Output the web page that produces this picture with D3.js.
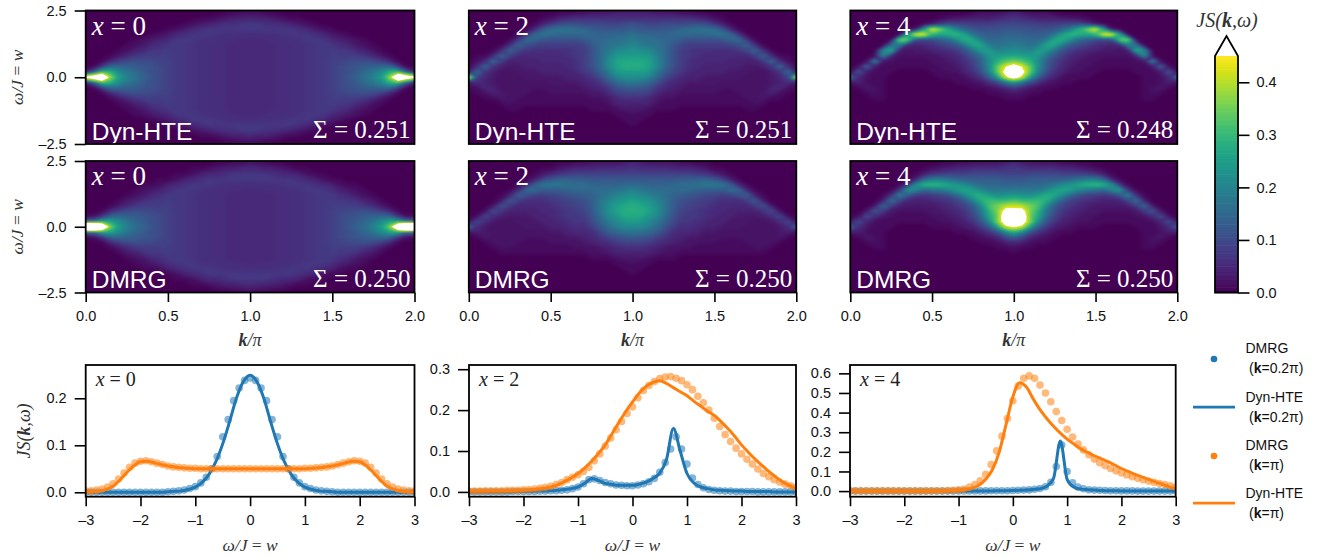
<!DOCTYPE html>
<html>
<head>
<meta charset="utf-8">
<script src="https://cdn.jsdelivr.net/npm/d3@7"></script>
<style>
body { margin: 0; background: #fff; }
svg { display: block; }
text { font-family: "Liberation Sans", Arial, sans-serif; }
.math { font-family: "Liberation Serif", serif; }
.tick text { font-size: 14.5px; }
</style>
</head>
<body>
<div id="chart"></div>
<script>
// ---- heat map values, in hundredths ----
// one list per k column (k = 0, 0.05 ... 1.0), the panels mirror around k = 1
// x = 0 columns run w = 2.6, 2.4 ... 0 and mirror around w = 0
var hteX0 = [
    [0,0,0,0,0,0,0,0,0,0,0,0,4,50],
    [0,0,0,0,0,0,0,0,0,0,0,1,14,60],
    [0,0,0,0,0,0,0,0,0,0,1,8,30,75],
    [0,0,0,0,0,0,0,0,0,1,5,15,29,38],
    [0,0,0,0,0,0,0,0,1,3,8,15,22,25],
    [0,0,0,0,0,0,0,1,2,5,10,14,18,20],
    [0,0,0,0,0,0,1,2,4,7,11,13,16,17],
    [0,0,0,0,0,0,2,3,5,8,10,12,13,14],
    [0,0,0,0,0,1,3,5,7,8,10,11,11,12],
    [0,0,0,0,0,2,4,6,7,8,9,10,10,10],
    [0,0,0,0,1,3,5,7,8,8,8.7,8.7,8.7,8.7],
    [0,0,0,0,2,5,7,7,7,7.3,7.5,7.5,7.5,7.5],
    [0,0,0,1,3,6,7,7,7,7,7,7,7,7],
    [0,0,0,2,5,7,7,6.6,6.6,6.6,6.6,6.6,6.6,6.6],
    [0,0,1,3,6,7,6.5,6.3,6.3,6.3,6.3,6.3,6.3,6.3],
    [0,0,1,4,7,7,6.3,6,6,6,6,6,6,6],
    [0,0,2,5,7,6.6,6,5.7,5.7,5.7,5.7,5.7,5.7,5.7],
    [0,1,3,6,7,6.3,5.8,5.5,5.5,5.5,5.5,5.5,5.5,5.5],
    [0,1,4,6,7,6.2,5.6,5.3,5.3,5.3,5.3,5.3,5.3,5.3],
    [0,2,4,7,7,6,5.4,5.1,5.1,5.1,5.1,5.1,5.1,5.1],
    [1,2,5,7,7,6,5.3,5,5,5,5,5,5,5]
];
var dmrgX0 = [
    [0,0,0,0,0,0,0,0,0,0,0,1,15,120],
    [0,0,0,0,0,0,0,0,0,0,0,2,16,120],
    [0,0,0,0,0,0,0,0,0,0,1,7,26,75],
    [0,0,0,0,0,0,0,0,0,1,5,14,27,36],
    [0,0,0,0,0,0,0,0,1,3,8,15,22,25],
    [0,0,0,0,0,0,0,1,3,5,10,14,18,20],
    [0,0,0,0,0,0,1,2,4,7,11,13,15,16],
    [0,0,0,0,0,1,2,3,6,8,10,12,13,14],
    [0,0,0,0,0,1,3,5,7,8,10,11,11,12],
    [0,0,0,0,1,2,4,6,7,8,9,10,10,10],
    [0,0,0,0,1,4,6,7,8,8,8.7,8.7,8.7,8.7],
    [0,0,0,1,2,5,7,7,7,7.3,7.5,7.5,7.5,7.5],
    [0,0,0,1,4,6,7,7,7,7,7,7,7,7],
    [0,0,1,2,5,7,7,6.6,6.6,6.6,6.6,6.6,6.6,6.6],
    [0,0,1,4,6,7,6.5,6.3,6.3,6.3,6.3,6.3,6.3,6.3],
    [0,0,2,5,7,7,6.3,6,6,6,6,6,6,6],
    [0,1,3,5,7,6.6,6,5.7,5.7,5.7,5.7,5.7,5.7,5.7],
    [0,1,4,6,7,6.3,5.8,5.5,5.5,5.5,5.5,5.5,5.5,5.5],
    [0,2,4,7,7,6.2,5.6,5.3,5.3,5.3,5.3,5.3,5.3,5.3],
    [1,2,5,7,7,6.1,5.5,5.1,5.1,5.1,5.1,5.1,5.1,5.1],
    [1,3,5,7,7,6,5.3,5,5,5,5,5,5,5]
];
// x = 2 and x = 4 columns run w = 2.6, 2.4 ... -2.6, trailing zeros left out
var hteX2 = [
    [0,0,0,0,0,0,0,0,0,0,0,1,3,44,3,1],
    [0,0,0,0,0,0,0,0,0,1,2,6,17,9,6,2,1],
    [0,0,0,0,0,0,0,0,0,1,6,16,7,5,4,5,2,1],
    [0,0,0,0,0,0,0,0,1,6,16,7,4,3,3,4,4,1],
    [0,0,0,0,0,0,0,1,6,15,8,4,2,2,2,2,3,3,1],
    [0,0,0,0,0,0,1,6,15,9,4,3,2,2,2,2,2,2,2,1],
    [0,0,0,0,0,1,7,15,10,5,4,3,3,2,2,2,2,2,1,1],
    [0,0,0,0,1,7,16,11,7,5,4,4,3,3,2,2,2,1,1],
    [0,0,0,1,5,15,14,9,6,5,4,4,3,3,2,2,1,1,1],
    [0,0,1,4,12,17,12,8,6,5,5,4,4,3,2,2,1,1,1],
    [0,0,2,7,16,16,11,8,6,5,5,4,4,3,3,2,2,1,1],
    [0,1,4,10,17,15,11,8,6,5,5,4,4,3,3,2,2,1,1],
    [0,1,5,11,17,15,11,8,6,6,5,5,4,4,3,2,2,1,1],
    [0,2,6,11,16,15,11,8,7,7,6,6,5,4,3,2,2,1,1],
    [0,2,6,10,15,15,12,9,8,8,8,8,7,5,4,3,2,1,1],
    [0,3,6,10,13,15,14,12,11,11,11,11,9,7,5,4,3,2,1,1],
    [1,3,6,10,12,14,15,15,15,15,15,15,13,10,7,5,3,2,1,1],
    [1,3,6,9,12,14,16,17,18,20,21,21,18,15,11,7,5,3,2,1],
    [1,4,6,9,12,15,16,18,21,24,26,26,24,20,15,11,8,5,4,2,1],
    [1,4,6,10,12,15,17,19,22,25,27,28,25,22,17,12,9,6,4,3,1,1],
    [1,4,6,11,14,17,19,21,23,25,27,28,25,22,18,13,9,6,4,3,2,1,1]
];
var dmrgX2 = [
    [0,0,0,0,0,0,0,0,0,0,0,0,2,16,2],
    [0,0,0,0,0,0,0,0,0,0,0,2,10,6,4,1],
    [0,0,0,0,0,0,0,0,0,0,2,10,6,3,3,3,1],
    [0,0,0,0,0,0,0,0,0,3,11,6,3,2,2,2,2,1],
    [0,0,0,0,0,0,0,1,3,12,7,4,2,2,2,2,2,2,1],
    [0,0,0,0,0,0,1,4,13,8,4,3,2,2,2,2,2,2,1],
    [0,0,0,0,0,1,5,14,9,5,4,3,3,2,2,2,2,1,1],
    [0,0,0,0,1,5,15,11,6,5,4,3,3,3,2,2,1,1,1],
    [0,0,0,1,4,13,16,9,6,5,4,4,3,3,2,2,1,1,1],
    [0,0,1,3,9,18,13,8,6,5,5,4,4,3,2,2,1,1,1],
    [0,0,1,5,12,18,13,9,7,6,5,5,4,4,3,2,2,1,1],
    [0,1,3,7,14,18,13,10,8,7,6,6,5,4,3,2,2,1,1],
    [0,1,4,8,14,17,14,11,9,8,7,7,6,5,4,3,2,1,1],
    [0,2,5,9,13,16,15,12,10,9,8,7,7,6,5,3,2,2,1],
    [0,2,5,9,13,16,15,13,11,10,9,8,7,6,5,4,3,2,1],
    [0,3,5,9,12,15,15,14,13,13,12,11,10,8,6,5,4,2,2,1],
    [1,3,6,9,12,14,16,16,17,17,17,16,14,12,9,7,5,3,2,1],
    [1,3,6,9,12,14,16,18,20,22,22,21,18,16,13,9,6,4,3,1],
    [1,3,6,9,12,14,17,20,23,25,26,24,21,19,15,11,8,5,4,2,1],
    [1,4,6,9,12,15,18,21,24,27,28,27,24,21,17,12,9,6,4,3,1,1],
    [3,5,7,9,12,16,20,23,26,28,28,27,25,21,17,13,9,6,4,3,2,1,1]
];
var hteX4 = [
    [0,0,0,0,0,0,0,0,0,0,0,0,2,17,2],
    [0,0,0,0,0,0,0,0,0,0,0,2,13,5,4,1],
    [0,0,0,0,0,0,0,0,0,0,2,15,4,2,2,3,1],
    [0,0,0,0,0,0,0,0,0,2,21,4,1,1,1,2,2,1],
    [0,0,0,0,0,0,0,1,21,21,3,1,1,1,1,1,1,1],
    [0,0,0,0,0,0,1,17,29,5,2,1,1],
    [0,0,0,0,0,1,36,19,4,2,1,1],
    [0,0,0,0,1,26,34,5,2,2,1,1],
    [0,0,0,0,3,44,10,4,3,2,1,1],
    [0,0,0,1,24,44,9,5,3,2,1,1],
    [0,0,0,3,44,30,10,6,4,2,2,1,1],
    [0,0,1,7,36,26,13,8,5,3,2,2,1,1],
    [0,0,2,10,28,28,15,10,6,4,3,2,2,1],
    [0,0,3,9,20,30,22,12,8,5,4,3,2,1,1],
    [0,0,3,9,15,26,28,18,11,8,6,5,4,2,1],
    [0,1,4,8,12,18,27,26,17,12,9,8,6,4,2,1],
    [0,2,4,8,11,14,19,27,24,17,14,13,11,7,3,1],
    [0,2,4,8,11,13,15,19,25,24,22,22,20,14,6,2,1],
    [0,2,5,9,11,13,15,17,20,25,29,34,34,25,10,3,1],
    [0,3,6,9,12,14,16,18,21,26,33,44,50,42,17,5,2,1],
    [2,4,7,10,12,14,16,19,22,27,35,52,60,52,22,8,3,1]
];
var dmrgX4 = [
    [0,0,0,0,0,0,0,0,0,0,0,0,3,15,3],
    [0,0,0,0,0,0,0,0,0,0,0,2,11,6,4,1],
    [0,0,0,0,0,0,0,0,0,0,3,11,5,3,2,3,1],
    [0,0,0,0,0,0,0,0,0,3,13,6,2,1,1,2,2,1],
    [0,0,0,0,0,0,0,1,4,16,8,3,1,1,1,1,1,1],
    [0,0,0,0,0,0,1,6,18,9,3,2,1,1],
    [0,0,0,0,0,1,7,21,10,4,2,1,1],
    [0,0,0,0,1,7,24,13,5,3,2,1,1],
    [0,0,0,1,5,22,21,8,4,3,2,1,1],
    [0,0,1,4,15,29,15,7,4,3,2,1,1],
    [0,0,2,7,19,30,17,8,5,3,3,2,1,1],
    [0,1,3,8,19,29,18,9,6,4,3,2,2,1],
    [0,1,4,9,17,27,21,11,7,5,4,3,2,1],
    [0,2,5,9,15,24,25,15,9,7,5,4,3,2,1],
    [0,2,5,9,14,21,27,21,13,9,7,6,4,3,1],
    [0,3,6,10,13,18,25,27,20,13,11,9,7,4,2,1],
    [0,3,6,10,13,16,21,28,28,22,18,15,12,8,4,2,1],
    [1,3,6,10,13,15,18,25,31,32,29,27,22,14,7,3,1],
    [1,3,6,10,13,15,18,22,30,36,36,34,36,26,12,5,2,1],
    [1,4,7,9,12,14,18,23,30,40,50,58,54,42,22,10,4,1],
    [2,6,7,9,12,15,18,24,32,41,50,58,58,46,28,14,5,2,1]
];

// ---- line cuts ----
// DMRG points, w = -3, -2.9 ... 3
var dmrgBlueX0 = [0,0,0,0,0,0,0,0,0,0,0,0,0,0,0,.001,.002,.003,.005,.008,.012,.02,.032,.05,.076,.118,.155,.195,.222,.238,.243,.238,.222,.195,.155,.118,.076,.05,.032,.02,.012,.008,.005,.003,.002,.001,0,0,0,0,0,0,0,0,0,0,0,0,0,0,0];
var dmrgOrangeX0 = [.003,.003,.005,.007,.011,.018,.028,.041,.053,.062,.066,.067,.065,.062,.059,.056,.054,.053,.052,.051,.051,.05,.05,.05,.05,.05,.05,.05,.05,.05,.05,.05,.05,.05,.05,.05,.05,.05,.05,.05,.051,.051,.052,.053,.054,.056,.059,.062,.065,.067,.066,.062,.053,.041,.028,.018,.011,.007,.005,.003,.003];
var dmrgBlueX2 = [0,0,0,0,0,0,0,0,.001,.001,.001,.001,.001,.002,.002,.003,.003,.004,.005,.008,.012,.02,.03,.032,.028,.023,.02,.017,.016,.015,.015,.017,.02,.025,.033,.048,.072,.105,.135,.105,.068,.034,.018,.01,.006,.004,.003,.002,.002,.001,.001,.001,.001,0,0,0,0,0,0,0,0];
var dmrgOrangeX2 = [.002,.002,.002,.003,.003,.003,.003,.004,.004,.004,.005,.006,.007,.009,.011,.014,.018,.023,.03,.036,.042,.05,.06,.076,.093,.112,.132,.152,.172,.192,.208,.23,.248,.26,.27,.277,.281,.282,.278,.272,.262,.25,.234,.218,.2,.18,.16,.14,.123,.107,.093,.08,.068,.056,.045,.037,.03,.024,.019,.015,.011];
var dmrgBlueX4 = [0,0,0,0,0,0,0,0,0,0,0,0,0,0,0,0,0,0,0,0,.001,.001,.001,.001,.001,.001,.002,.002,.002,.002,.003,.004,.005,.006,.009,.013,.022,.045,.125,.235,.1,.042,.02,.012,.007,.005,.004,.003,.002,.002,.001,.001,.001,0,0,0,0,0,0,0,0];
var dmrgOrangeX4 = [.001,.001,.001,.001,.001,.001,.001,.001,.001,.001,.001,.001,.001,.001,.001,.002,.002,.002,.003,.004,.006,.01,.02,.033,.052,.085,.135,.205,.28,.37,.46,.535,.575,.587,.575,.54,.5,.455,.405,.36,.315,.275,.24,.21,.185,.163,.145,.13,.115,.103,.092,.082,.073,.065,.058,.051,.045,.039,.033,.027,.021];
// Dyn-HTE lines, w = -3, -2.875 ... 3
var hteBlueX0 = [0,0,0,0,0,0,0,0,0,0,0,0,.001,.002,.003,.006,.011,.021,.038,.065,.103,.15,.2,.235,.249,.235,.2,.15,.103,.065,.038,.021,.011,.006,.003,.002,.001,0,0,0,0,0,0,0,0,0,0,0,0];
var hteOrangeX0 = [0,.001,.002,.006,.013,.026,.042,.056,.065,.066,.063,.059,.056,.054,.052,.051,.05,.05,.05,.05,.05,.05,.05,.05,.05,.05,.05,.05,.05,.05,.05,.05,.05,.051,.052,.054,.056,.059,.063,.066,.065,.056,.042,.026,.013,.006,.002,.001,0];
var hteBlueX2 = [0,0,0,0,0,0,0,.001,.001,.001,.002,.002,.003,.004,.006,.008,.012,.021,.033,.028,.021,.018,.016,.016,.016,.019,.024,.033,.046,.08,.155,.1,.045,.022,.012,.008,.005,.004,.003,.002,.002,.001,.001,.001,.001,0,0,0,0];
var hteOrangeX2 = [.002,.002,.002,.003,.003,.003,.003,.004,.004,.005,.007,.009,.012,.017,.025,.034,.045,.059,.075,.094,.115,.142,.17,.196,.22,.242,.258,.268,.272,.265,.255,.245,.235,.222,.21,.198,.187,.172,.155,.136,.115,.097,.08,.065,.05,.037,.025,.016,.008];
var hteBlueX4 = [0,0,0,0,0,0,0,0,0,0,0,0,0,0,0,0,0,0,0,0,.001,.001,.002,.002,.003,.004,.005,.008,.012,.025,.065,.255,.06,.02,.01,.007,.005,.003,.002,.002,.001,.001,.001,0,0,0,0,0,0];
var hteOrangeX4 = [0,0,0,0,0,0,0,0,0,0,0,0,.001,.001,.002,.003,.004,.008,.015,.03,.06,.11,.2,.34,.48,.552,.53,.47,.415,.37,.33,.295,.265,.24,.215,.197,.18,.165,.15,.133,.115,.1,.085,.072,.06,.047,.035,.023,.012];

var pointOmega = d3.range(61).map(i => -3 + i * 0.1);
var lineOmega = d3.range(49).map(i => -3 + i * 0.125);

var kTicks = [0, 0.5, 1, 1.5, 2];
var wTicks = [-2.5, 0, 2.5];
var cutXTicks = [-3, -2, -1, 0, 1, 2, 3];
var cbarTicks = [0, 0.1, 0.2, 0.3, 0.4];
var xValues = [0, 2, 4];
var sumHte = ["0.251", "0.251", "0.248"];
var sumDmrg = ["0.250", "0.250", "0.250"];
var blue = "#1f77b4";
var orange = "#ff7f0e";
var vmax = 0.45;

var svg = d3.select("#chart").append("svg")
    .attr("width", 1326)
    .attr("height", 558)
    .attr("fill", "#111");

// The reference heat maps look soft, so the contour bands get a light blur
svg.append("filter")
    .attr("id", "soften")
    .attr("x", "-5%").attr("y", "-5%")
    .attr("width", "110%").attr("height", "110%")
    .attr("color-interpolation-filters", "sRGB")
    .append("feGaussianBlur")
    .attr("stdDeviation", "2.2 1.2");

var columns = [[85.7, 414.5], [468.8, 796.3], [850.3, 1177.3]];
var cutColumns = [[85.7, 414.5], [469, 796], [850, 1175.7]];
var color = t => d3.interpolateViridis(t / vmax);
var minusFix = f => (d => f(d).replace("\u2212", "\u2013").replace("-", "\u2013"));
var clipId = 0;

// Pad a column to full length
function pad(col, n) {
    return col.concat(d3.range(n - col.length).map(() => 0));
}

// Mirror x = 0 half columns to all w rows
function fullX0(cols) {
    return cols.map(c => c.concat(c.slice(0, -1).reverse()));
}

// Flatten columns to the row order that d3.contours wants
function gridFrom(cols) {
    var half = cols.map(c => pad(c, 27));
    var all = half.concat(half.slice(0, -1).reverse());
    var values = [];
    for (var j = 0; j < 27; j++) {
        for (var i = 0; i < all.length; i++) {
            values.push(all[i][j] / 100);
        }
    }
    return values;
}

function frame(g, x, y) {
    g.append("rect")
        .attr("x", x.range()[0])
        .attr("y", y.range()[1])
        .attr("width", x.range()[1] - x.range()[0])
        .attr("height", y.range()[0] - y.range()[1])
        .attr("fill", "none")
        .attr("stroke", "#000")
        .attr("stroke-width", 1.8);
}

function styleAxis(sel) {
    sel.select(".domain").remove();
    sel.selectAll(".tick line").attr("stroke", "#000").attr("stroke-width", 1.6);
    sel.selectAll(".tick text").attr("fill", "#111");
}

function clipRect(x, y) {
    var id = "clip" + (clipId++);
    svg.append("clipPath").attr("id", id).append("rect")
        .attr("x", x.range()[0])
        .attr("y", y.range()[1])
        .attr("width", x.range()[1] - x.range()[0])
        .attr("height", y.range()[0] - y.range()[1]);
    return "url(#" + id + ")";
}

// label written as  x = 0 , with the x in italics
function xLabel(g, px, py, size, value, fill) {
    var t = g.append("text").attr("class", "math")
        .attr("x", px).attr("y", py)
        .attr("font-size", size).attr("fill", fill);
    t.append("tspan").attr("font-style", "italic").text("x");
    t.append("tspan").text(" = " + value);
}

function wLabel(g, px, py, rotate) {
    var t = g.append("text").attr("class", "math")
        .attr("text-anchor", "middle")
        .attr("font-size", 17.5)
        .attr("fill", "#333")
        .attr("transform", "translate(" + px + "," + py + ")" + (rotate ? " rotate(-90)" : ""));
    t.append("tspan").attr("font-style", "italic").text("\u03c9/J");
    t.append("tspan").text(" = ");
    t.append("tspan").attr("font-style", "italic").text("w");
}

function jsLabel(g, px, py, rotate, size) {
    var t = g.append("text").attr("class", "math")
        .attr("text-anchor", "middle")
        .attr("font-size", size)
        .attr("fill", "#333")
        .attr("transform", "translate(" + px + "," + py + ")" + (rotate ? " rotate(-90)" : ""));
    t.append("tspan").attr("font-style", "italic").text("JS(");
    t.append("tspan").attr("font-style", "italic").attr("font-weight", "bold").text("k");
    t.append("tspan").attr("font-style", "italic").text(",\u03c9)");
}

function heatPanel(cols, col, yTop, yBottom, method, sum, value) {
    var g = svg.append("g");
    var x = d3.scaleLinear().domain([0, 2]).range(columns[col]);
    var y = d3.scaleLinear().domain([-2.5, 2.5]).range([yBottom, yTop]);

    var thresholds = d3.range(0.005, vmax, 0.005).concat([vmax]);
    var contours = d3.contours().size([41, 27]).thresholds(thresholds)(gridFrom(cols));
    var project = d3.geoTransform({
        point: function (px, py) {
            this.stream.point(x((px - 0.5) * 0.05), y(2.6 - (py - 0.5) * 0.2));
        }
    });
    var path = d3.geoPath(project);

    var clipped = g.append("g").attr("clip-path", clipRect(x, y));
    var plot = clipped.append("g").attr("filter", "url(#soften)");
    plot.append("rect")
        .attr("x", x.range()[0] - 12).attr("y", yTop - 12)
        .attr("width", x.range()[1] - x.range()[0] + 24)
        .attr("height", yBottom - yTop + 24)
        .attr("fill", color(0));
    plot.selectAll("path")
        .data(contours.filter(d => d.value < vmax))
        .join("path")
        .attr("d", path)
        .attr("fill", d => color(d.value + 0.0025));
    // values over the colour range stay crisp white
    clipped.selectAll("path.over")
        .data(contours.filter(d => d.value >= vmax))
        .join("path")
        .attr("class", "over")
        .attr("d", path)
        .attr("fill", "#fff");

    xLabel(g, x.range()[0] + 6, yTop + 24, 27, value, "#fff");
    g.append("text").attr("x", x.range()[0] + 6).attr("y", yBottom - 4.5)
        .attr("font-size", 24.5).attr("fill", "#fff").text(method);
    g.append("text").attr("class", "math")
        .attr("x", x.range()[1] - 4).attr("y", yBottom - 6)
        .attr("text-anchor", "end").attr("font-size", 25).attr("fill", "#fff")
        .text("\u03a3 = " + sum);

    frame(g, x, y);

    if (col == 0) {
        g.append("g")
            .attr("transform", "translate(" + x.range()[0] + ",0)")
            .call(d3.axisLeft(y).tickValues(wTicks).tickSize(11).tickPadding(8)
                .tickFormat(minusFix(d3.format(".1f"))))
            .call(styleAxis);
        wLabel(g, 23, (yTop + yBottom) / 2, true);
    }
    if (yTop > 100) {
        g.append("g")
            .attr("transform", "translate(0," + yBottom + ")")
            .call(d3.axisBottom(x).tickValues(kTicks).tickSize(9.5).tickPadding(9)
                .tickFormat(d3.format(".1f")))
            .call(styleAxis);
        var t = g.append("text").attr("class", "math")
            .attr("x", (x.range()[0] + x.range()[1]) / 2).attr("y", yBottom + 53)
            .attr("text-anchor", "middle").attr("font-size", 18).attr("fill", "#333");
        t.append("tspan").attr("font-style", "italic").attr("font-weight", "bold").text("k");
        t.append("tspan").attr("font-style", "italic").text("/\u03c0");
    }
}

// Top two rows
heatPanel(fullX0(hteX0), 0, 10.5, 144, "Dyn-HTE", sumHte[0], xValues[0]);
heatPanel(hteX2, 1, 10.5, 144, "Dyn-HTE", sumHte[1], xValues[1]);
heatPanel(hteX4, 2, 10.5, 144, "Dyn-HTE", sumHte[2], xValues[2]);
heatPanel(fullX0(dmrgX0), 0, 161, 292.5, "DMRG", sumDmrg[0], xValues[0]);
heatPanel(dmrgX2, 1, 161, 292.5, "DMRG", sumDmrg[1], xValues[1]);
heatPanel(dmrgX4, 2, 161, 292.5, "DMRG", sumDmrg[2], xValues[2]);

// Colorbar
var cbarY = d3.scaleLinear().domain([0, vmax]).range([292.5, 56]);
var cbar = svg.append("g");
cbar.selectAll("rect")
    .data(d3.range(0, vmax, 0.005))
    .join("rect")
    .attr("x", 1215).attr("width", 23)
    .attr("y", d => cbarY(d + 0.005))
    .attr("height", cbarY(0) - cbarY(0.005) + 0.6)
    .attr("fill", d => color(d + 0.0025));
cbar.append("path")
    .attr("d", "M1215,292.5V56L1226.5,36L1238,56V292.5Z")
    .attr("fill", "none").attr("stroke", "#000").attr("stroke-width", 1.8);
cbar.append("g")
    .attr("transform", "translate(1238,0)")
    .call(d3.axisRight(cbarY).tickValues(cbarTicks).tickSize(11.5).tickPadding(7)
        .tickFormat(d3.format(".1f")))
    .call(styleAxis);
jsLabel(cbar, 1227, 27, false, 20);

// Bottom row
function cutPanel(col, yDomain, yTicks, blues, oranges, lineBlue, lineOrange, value) {
    var g = svg.append("g");
    var x = d3.scaleLinear().domain([-3, 3]).range(cutColumns[col]);
    var y = d3.scaleLinear().domain(yDomain).range([496.7, 365]);
    var line = d3.line().x(d => x(d[0])).y(d => y(d[1])).curve(d3.curveMonotoneX);

    var plot = g.append("g").attr("clip-path", clipRect(x, y));
    var series = [[blues, lineBlue, blue], [oranges, lineOrange, orange]];
    series.forEach(function (s) {
        plot.append("g").selectAll("circle")
            .data(d3.zip(pointOmega, s[0]))
            .join("circle")
            .attr("cx", d => x(d[0]))
            .attr("cy", d => y(d[1]))
            .attr("r", 3.8)
            .attr("fill", s[2])
            .attr("fill-opacity", 0.55);
        plot.append("path")
            .attr("d", line(d3.zip(lineOmega, s[1])))
            .attr("fill", "none")
            .attr("stroke", s[2])
            .attr("stroke-width", 3)
            .attr("stroke-linejoin", "round");
    });

    frame(g, x, y);

    g.append("g")
        .attr("transform", "translate(" + x.range()[0] + ",0)")
        .call(d3.axisLeft(y).tickValues(yTicks).tickSize(11).tickPadding(8).tickFormat(d3.format(".1f")))
        .call(styleAxis);
    g.append("g")
        .attr("transform", "translate(0,496.7)")
        .call(d3.axisBottom(x).tickValues(cutXTicks).tickSize(9.5).tickPadding(9)
            .tickFormat(minusFix(d3.format("d"))))
        .call(styleAxis);

    xLabel(g, x.range()[0] + 10, 385.7, 20, value, "#222");
    wLabel(g, (x.range()[0] + x.range()[1]) / 2, 551, false);
}

cutPanel(0, [-0.0094, 0.2708], [0, 0.1, 0.2], dmrgBlueX0, dmrgOrangeX0, hteBlueX0, hteOrangeX0, xValues[0]);
cutPanel(1, [-0.0117, 0.3103], [0, 0.1, 0.2, 0.3], dmrgBlueX2, dmrgOrangeX2, hteBlueX2, hteOrangeX2, xValues[1]);
cutPanel(2, [-0.0286, 0.6425], [0, 0.1, 0.2, 0.3, 0.4, 0.5, 0.6], dmrgBlueX4, dmrgOrangeX4, hteBlueX4, hteOrangeX4, xValues[2]);
jsLabel(svg, 30, 431, true, 18);

// Legend
var legendNames = ["DMRG", "Dyn-HTE", "DMRG", "Dyn-HTE"];
var legendKs = ["0.2\u03c0", "0.2\u03c0", "\u03c0", "\u03c0"];
var legendKinds = ["dot", "line", "dot", "line"];
var legendColors = [blue, blue, orange, orange];
var legendRows = [353, 401.7, 450, 497.7];
var legend = svg.append("g");
legendNames.forEach(function (name, i) {
    var base = legendRows[i];
    if (legendKinds[i] == "dot") {
        legend.append("circle").attr("cx", 1214).attr("cy", base + 6).attr("r", 3.3).attr("fill", legendColors[i]);
    } else {
        legend.append("line").attr("x1", 1193).attr("x2", 1235)
            .attr("y1", base + 5.5).attr("y2", base + 5.5)
            .attr("stroke", legendColors[i]).attr("stroke-width", 2.8);
    }
    legend.append("text").attr("x", 1245.5).attr("y", base).attr("font-size", 14).text(name);
    var t = legend.append("text").attr("x", 1249).attr("y", base + 20).attr("font-size", 14);
    t.append("tspan").text("(");
    t.append("tspan").attr("font-weight", "bold").text("k");
    t.append("tspan").text("=" + legendKs[i] + ")");
});
</script>
</body>
</html>
